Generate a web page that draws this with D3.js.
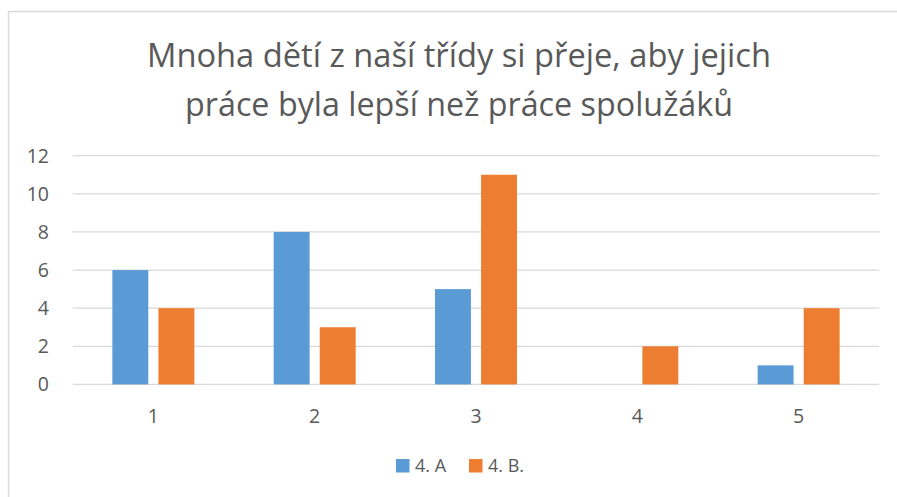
<!DOCTYPE html>
<html>
<head>
<meta charset="utf-8">
<script src="https://cdn.jsdelivr.net/npm/d3@7"></script>
<style>
  body { margin: 0; background: #fff; }
  svg { display: block; }
</style>
</head>
<body>
<svg id="chart" width="897" height="497"></svg>
<script>
const categories = ["1", "2", "3", "4", "5"]
const series_names = ["4. A", "4. B."]
const values_a = [6, 8, 5, 0, 1]
const values_b = [4, 3, 11, 2, 4]
const y_ticks = [0, 2, 4, 6, 8, 10, 12]
const title_lines = ["Mnoha dětí z naší třídy si přeje, aby jejich", "práce byla lepší než práce spolužáků"]

const colors = ["#5b9bd5", "#ed7d31"]
const text_color = "#595959"
const font = "'Open Sans', 'Noto Sans', sans-serif"

const svg = d3.select("#chart")
const width = 897, height = 497
const plot = {left: 72.7, right: 879.3, top: 155.7, bottom: 384.4}

// chart border (left and top only visible)
svg.append("line")
    .attr("x1", 8.5).attr("x2", 8.5).attr("y1", 11.5).attr("y2", height)
    .attr("stroke", "#d9d9d9").attr("stroke-width", 1.5)
svg.append("line")
    .attr("x1", 8.5).attr("x2", width).attr("y1", 11.5).attr("y2", 11.5)
    .attr("stroke", "#d9d9d9").attr("stroke-width", 1.5)

// title
svg.append("g").selectAll("text")
    .data(title_lines)
    .join("text")
    .attr("x", 459)
    .attr("y", (d, i) => 67 + i * 48.5)
    .attr("text-anchor", "middle")
    .attr("font-family", font)
    .attr("font-size", 32.5)
    .attr("textLength", (d, i) => [624, 548][i])
    .attr("lengthAdjust", "spacingAndGlyphs")
    .attr("fill", text_color)
    .text(d => d)

const y = d3.scaleLinear().domain([0, 12]).range([plot.bottom, plot.top])
const x0 = d3.scaleBand().domain(categories).range([plot.left, plot.right]).padding(0)
const group_w = 82
const x1 = d3.scaleBand().domain(series_names).range([0, group_w]).paddingInner(0.22)

// gridlines
svg.append("g").selectAll("line")
    .data(y_ticks)
    .join("line")
    .attr("x1", plot.left).attr("x2", plot.right)
    .attr("y1", d => y(d)).attr("y2", d => y(d))
    .attr("stroke", "#d9d9d9").attr("stroke-width", 1.3)

// y labels
svg.append("g").selectAll("text")
    .data(y_ticks)
    .join("text")
    .attr("x", 49)
    .attr("y", d => y(d))
    .attr("dy", "0.35em")
    .attr("text-anchor", "end")
    .attr("font-family", font)
    .attr("font-size", 19.5)
    .attr("fill", text_color)
    .text(d => d)

// bars
const table = categories.map((c, i) => ({cat: c, vals: [values_a[i], values_b[i]]}))
svg.append("g").selectAll("g")
    .data(table)
    .join("g")
    .attr("transform", d => `translate(${x0(d.cat) + x0.bandwidth() / 2 - group_w / 2},0)`)
    .selectAll("rect")
    .data(d => d.vals.map((v, k) => ({name: series_names[k], v, k})))
    .join("rect")
    .attr("x", d => x1(d.name))
    .attr("width", x1.bandwidth())
    .attr("y", d => y(d.v))
    .attr("height", d => y(0) - y(d.v))
    .attr("fill", d => colors[d.k])

// x labels
svg.append("g").selectAll("text")
    .data(categories)
    .join("text")
    .attr("x", d => x0(d) + x0.bandwidth() / 2)
    .attr("y", 416)
    .attr("dy", "0.35em")
    .attr("text-anchor", "middle")
    .attr("font-family", font)
    .attr("font-size", 19.5)
    .attr("fill", text_color)
    .text(d => d)

// legend
const legend_x = [396, 469]
const lg = svg.append("g").selectAll("g")
    .data(series_names)
    .join("g")
    .attr("transform", (d, i) => `translate(${legend_x[i]},466)`)
lg.append("rect")
    .attr("x", 0).attr("y", -7)
    .attr("width", 13.5).attr("height", 13.5)
    .attr("fill", (d, i) => colors[i])
lg.append("text")
    .attr("x", 19)
    .attr("y", 0)
    .attr("dy", "0.35em")
    .attr("font-family", font)
    .attr("font-size", 18)
    .attr("fill", text_color)
    .text(d => d)
</script>
</body>
</html>
